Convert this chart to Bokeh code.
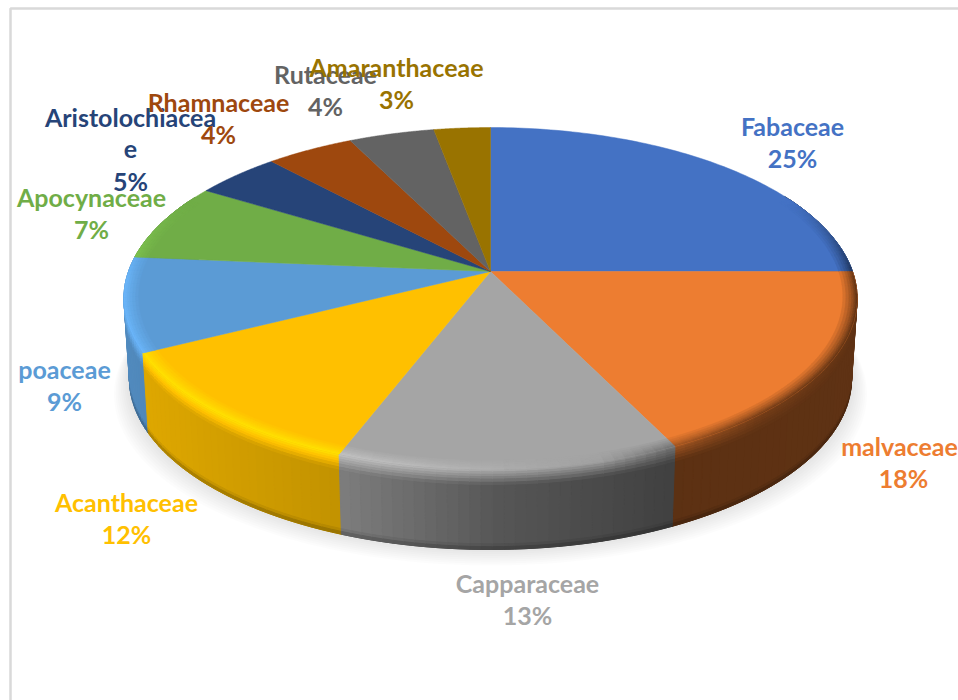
import numpy as np
from bokeh.plotting import figure
from bokeh.models import Range1d
from bokeh.core.properties import value
from bokeh.embed import file_html
from bokeh.resources import INLINE

# ---- data
families = ["Fabaceae", "malvaceae", "Capparaceae", "Acanthaceae", "poaceae",
            "Apocynaceae", "Aristolochiacea\ne", "Rhamnaceae", "Rutaceae", "Amaranthaceae"]
percents = [25, 18, 13, 12, 9, 7, 5, 4, 4, 3]
# the sizes of the slices as drawn (the labels above are rounded)
slice_shares = [25.0, 17.8, 13.0, 11.7, 8.9, 7.4, 4.4, 4.5, 4.4, 2.9]
colours = ["#4472C4", "#ED7D31", "#A5A5A5", "#FFC000", "#5B9BD5",
           "#70AD47", "#264478", "#9E480E", "#636363", "#997300"]

# ---- layout (pixels of the picture)
label_x = [792, 899, 527, 126, 64, 91, 130, 218, 325, 396]
pct_x = [792, 903, 527, 126, 64, 91, 130, 218, 325, 396]
label_y = [125, 445, 582, 501, 368, 196, 116, 101, 73, 66]
line_gap = 32
CX, CY, A, B, K = 490.0, 271.0, 362.0, 166.7, 0.158
DEPTH, BOTTOM_SCALE = 80.0, 0.985
RIM = [0.962, 0.970, 0.978, 0.985, 0.991, 0.996, 1.0]
SIDE_V = [0.0, 0.03, 0.06, 0.09, 0.12, 0.16, 0.20, 0.93, 0.965, 1.0]


def proj(theta, r=1.0):
    X, Y = r * np.sin(theta), r * np.cos(theta)
    w = 1 + K * Y
    return CX + A * X / w, CY - B * Y / w


def bottom(x, y):
    return CX + BOTTOM_SCALE * (x - CX), y + DEPTH


def rgb(h):
    return np.array([int(h[i:i + 2], 16) for i in (1, 3, 5)], float)


def hexc(c):
    c = np.clip(c, 0, 255).round().astype(int)
    return "#%02x%02x%02x" % tuple(c)


def side_factor(x):
    return np.interp(x, [120, 145, 340, 500, 675, 860], [0.90, 0.87, 0.76, 0.52, 0.39, 0.40])


def high_factor(x):
    return np.interp(x, [120, 340, 420, 600, 675, 760, 860], [1.17, 1.17, 1.12, 0.97, 0.68, 0.5, 0.42])


p = figure(width=958, height=700, x_range=Range1d(0, 958), y_range=Range1d(700, 0),
           output_backend="svg", toolbar_location=None, min_border=0,
           outline_line_color=None, background_fill_color="white")
p.axis.visible = False
p.grid.visible = False

# frame
p.line([10, 10, 958], [700, 8, 8], line_color="#d9d9d9", line_width=2.5)

edges = 2 * np.pi * np.cumsum([0] + slice_shares) / sum(slice_shares)

# soft ground shadow
full = np.linspace(0, 2 * np.pi, 240)
sx, sy = proj(full)
bx, by = bottom(sx, sy)
for grow in range(18, 0, -2):
    p.patch(CX + (bx - CX) * (1 + grow / 420), by + grow * 0.95 - 1, fill_color="black",
            fill_alpha=0.012, line_color=None)

# side wall: one solid piece per slice under finer shaded pieces
side_xs, side_ys, side_cs, side_order = [], [], [], []
for i, c in enumerate(colours):
    base = rgb(c)
    n = max(3, int((edges[i + 1] - edges[i]) / np.radians(1.5)))
    t = np.linspace(edges[i], edges[i + 1], n + 1)
    keep = t[np.cos(t) < 0.5]
    if len(keep) > 1:
        kx, ky = proj(keep)
        ux, uy = bottom(kx, ky)
        col = hexc(base * side_factor(kx.mean()))
        p.patch(list(kx) + list(ux[::-1]), list(ky) + list(uy[::-1]), fill_color=col, line_color=col, line_width=1)
    for a0, a1 in zip(t[:-1], t[1:]):
        if np.cos((a0 + a1) / 2) > 0.45:
            continue
        x0, y0 = proj(a0)
        x1, y1 = proj(a1)
        u0, w0 = bottom(x0, y0)
        u1, w1 = bottom(x1, y1)
        xm = (x0 + x1) / 2
        ym = np.cos((a0 + a1) / 2)
        weight = np.clip((0.45 - ym) / 0.5, 0, 1)
        sf = side_factor(xm)
        hf = 1 + weight * (high_factor(xm) - 1)
        for v0, v1 in zip(SIDE_V[:-1], SIDE_V[1:]):
            vm = (v0 + v1) / 2
            if vm < 0.20:
                f = hf + (sf - hf) * (vm / 0.20) * weight + (sf - hf) * (1 - weight)
            elif vm < 0.93:
                f = sf
            else:
                f = sf * (1 - 0.28 * (vm - 0.93) / 0.07)
            qx = [x0 + (u0 - x0) * v0, x1 + (u1 - x1) * v0, x1 + (u1 - x1) * v1, x0 + (u0 - x0) * v1]
            qy = [y0 + (w0 - y0) * v0, y1 + (w1 - y1) * v0, y1 + (w1 - y1) * v1, y0 + (w0 - y0) * v1]
            side_xs.append(qx)
            side_ys.append(qy)
            side_cs.append(hexc(base * f))
            side_order.append(-ym)
order = np.argsort(side_order, kind="stable")
p.patches([side_xs[j] for j in order], [side_ys[j] for j in order],
          fill_color=[side_cs[j] for j in order], line_color=[side_cs[j] for j in order], line_width=1)

# top face
for i, c in enumerate(colours):
    t = np.linspace(edges[i], edges[i + 1], 90)
    x, y = proj(t)
    p.patch([CX] + list(x), [CY] + list(y), fill_color=c, line_color=c, line_width=0.5)

# bevel on the rim of the top face
rim_xs, rim_ys, rim_cs = [], [], []
for i, c in enumerate(colours):
    base = rgb(c)
    n = max(3, int((edges[i + 1] - edges[i]) / np.radians(1.5)))
    t = np.linspace(edges[i], edges[i + 1], n + 1)
    for a0, a1 in zip(t[:-1], t[1:]):
        am = (a0 + a1) / 2
        weight = np.clip((0.45 - np.cos(am)) / 0.5, 0, 1)
        if weight <= 0:
            continue
        xm = proj(am)[0]
        hf = high_factor(xm)
        for k, (r0, r1) in enumerate(zip(RIM[:-1], RIM[1:])):
            f = 1 + (hf - 1) * weight * (k + 1) / (len(RIM) - 1)
            xa, ya = proj(a0, r0)
            xb, yb = proj(a1, r0)
            xc, yc = proj(a1, r1)
            xd, yd = proj(a0, r1)
            col = hexc(base * f)
            rim_xs.append([xa, xb, xc, xd])
            rim_ys.append([ya, yb, yc, yd])
            rim_cs.append(col)
p.patches(rim_xs, rim_ys, fill_color=rim_cs, line_color=rim_cs, line_width=0.5)

# labels, in series order so that later ones sit on top
for name, pct, c, lx, px, ly in zip(families, percents, colours, label_x, pct_x, label_y):
    lines = name.split("\n") + [f"{pct}%"]
    xs = [lx] * (len(lines) - 1) + [px]
    p.text(xs, [ly + j * line_gap for j in range(len(lines))], text=lines,
           text_color=c, text_font=value("Lato"), text_font_style="bold", text_font_size="25px",
           text_align="center", text_baseline="middle")

open("out.html", "w").write(file_html(p, INLINE))
